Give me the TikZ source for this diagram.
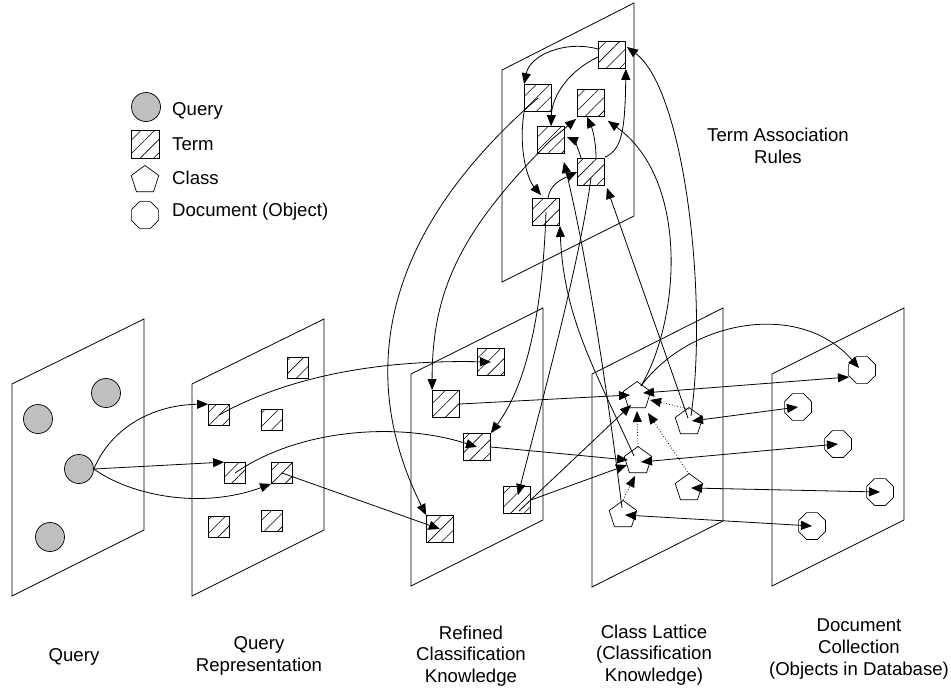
\documentclass[tikz,border=0pt]{standalone}
\usepackage{fontspec}
\setmainfont{Liberation Sans}
\usetikzlibrary{arrows.meta,shapes.geometric,patterns.meta,calc}
\begin{document}
\begin{tikzpicture}[x=1pt,y=-1pt,
  panel/.style={draw, line width=0.8pt},
  qn/.style={circle, draw, fill=black!25, minimum size=29pt, inner sep=0pt, line width=0.7pt},
  tn/.style={rectangle, draw, minimum size=27pt, inner sep=0pt, line width=0.8pt,
     pattern={Lines[angle=45,distance=9.5pt,line width=0.6pt]}},
  tns/.style={tn, minimum size=21pt},
  cn/.style={regular polygon, regular polygon sides=5, draw, fill=white, minimum size=29pt, inner sep=0pt, line width=0.7pt},
  dn/.style={regular polygon, regular polygon sides=8, draw, fill=white, minimum size=29pt, inner sep=0pt, line width=0.7pt},
  arr/.style={-{Triangle[length=11pt,width=9pt]}, line width=0.8pt},
  darr/.style={{Triangle[length=11pt,width=9pt]}-{Triangle[length=11pt,width=9pt]}, line width=0.8pt},
  dt/.style={arr, dotted},
  lab/.style={font=\fontsize{18.6pt}{21.7pt}\selectfont, align=center, inner sep=0pt},
  leg/.style={font=\fontsize{18.6pt}{21.7pt}\selectfont, anchor=base west, inner sep=0pt}
]
\useasboundingbox (0,0) rectangle (951,688);

% panels
\draw[panel] (12,384) -- (144,319) -- (144,530) -- (12,596) -- cycle;
\draw[panel] (192,384) -- (324,319) -- (324,530) -- (192,596) -- cycle;
\draw[panel] (411,374) -- (543,308) -- (543,520) -- (411,586) -- cycle;
\draw[panel] (592,374) -- (723,308) -- (723,521) -- (592,587) -- cycle;
\draw[panel] (772,374) -- (904,308) -- (904,520) -- (772,586) -- cycle;
\draw[panel] (502,70) -- (634,3) -- (634,216) -- (502,282) -- cycle;

% legend
\node[qn] (lq) at (146,107) {};
\node[tn, minimum size=28pt] (lt) at (145,144) {};
\node[cn] (lc) at (145,180) {};
\node[dn] (ld) at (145,215) {};
\node[leg] (lqt) at (172,115) {Query};
\node[leg] (ltt) at (172,150) {Term};
\node[leg] (lct) at (172,184) {Class};
\node[leg] (ldt) at (172,216) {Document (Object)};

% query
\node[qn] (c1) at (38,419) {};
\node[qn] (c2) at (106,393) {};
\node[qn] (c3) at (79,469) {};
\node[qn] (c4) at (50,537) {};

% query representation
\node[tns] (s1) at (298,368) {};
\node[tns] (s2) at (219,415) {};
\node[tns] (s3) at (272,420) {};
\node[tns] (s4) at (235,473) {};
\node[tns] (s5) at (282,473) {};
\node[tns] (s6) at (219,527) {};
\node[tns] (s7) at (272,521) {};

% refined
\node[tn] (r1) at (491,362) {};
\node[tn] (r2) at (446,404) {};
\node[tn] (r3) at (477,447) {};
\node[tn] (r4) at (517,500) {};
\node[tn] (r5) at (440,529) {};

% term association
\node[tn] (t1) at (612,55) {};
\node[tn] (t2) at (538,98) {};
\node[tn] (t3) at (591,103) {};
\node[tn] (t4) at (551,140) {};
\node[tn] (t5) at (591,172) {};
\node[tn] (t6) at (546,212) {};

% class lattice
\node[cn] (p1) at (637,396) {};
\node[cn] (p2) at (689,422) {};
\node[cn] (p3) at (638,461) {};
\node[cn] (p4) at (689,488) {};
\node[cn] (p5) at (623,515) {};

% documents
\node[dn] (o1) at (862,370) {};
\node[dn] (o2) at (798,407) {};
\node[dn] (o3) at (838,444) {};
\node[dn] (o4) at (880,492) {};
\node[dn] (o5) at (812,526) {};

% labels
\node[lab] (l1) at (74,657) {Query};
\node[lab] (l2) at (259,656) {Query\\Representation};
\node[lab] (l3) at (471,656) {Refined\\Classification\\Knowledge};
\node[lab] (l4) at (654,655) {Class Lattice\\(Classification\\Knowledge)};
\node[lab] (l5) at (859,649) {Document\\Collection\\(Objects in Database)};
\node[lab] (l6) at (778,146) {Term Association\\Rules};

% query -> query representation
\draw[arr] (c3.east) .. controls (110,430) and (150,405) .. (s2.north west);
\draw[arr] (c3.east) -- (s4.north west);
\draw[arr] (c3.east) .. controls (130,495) and (200,510) .. (s5.south west);

% query representation -> refined
\draw[arr] (s2.center) .. controls (300,370) and (400,360) .. (r1.center);
\draw[arr] (s4.center) .. controls (300,428) and (400,422) .. (r3.center);
\draw[arr] (s5.center) -- (r5.center);

% refined -> class
\draw[arr] (r2.east) -- ($(p1.center)+(-7,-1)$);
\draw[arr] (r3.east) -- ($(p3.center)+(-10,-1)$);
\draw[arr] (r4.east) -- ($(p3.center)+(-11,4)$);
\draw[arr] ($(r4.center)+(2,11)$) -- ($(p1.center)+(-6,9)$);

% class <-> documents
\draw[darr] ($(p1.center)+(6,-3)$) -- ($(o1.center)+(-13,7)$);
\draw[arr] ($(p1.center)+(4,-10)$) .. controls (690,320) and (800,300) .. ($(o1.center)+(-3,-2)$);
\draw[darr] ($(p2.center)+(3,-1)$) -- (o2.center);
\draw[darr] ($(p3.center)+(3,1)$) -- (o3.center);
\draw[darr] ($(p4.center)+(2,0)$) -- (o4.center);
\draw[darr] ($(p5.center)+(2,0)$) -- (o5.center);

% lattice (dotted)
\draw[dt] ($(p2.center)+(0,-13)$) -- ($(p1.center)+(13,4)$);
\draw[dt] ($(p4.center)+(0,-14)$) -- ($(p1.center)+(11,17)$);
\draw[dt] ($(p3.center)+(0,-14)$) -- ($(p1.center)+(0,15)$);
\draw[dt] ($(p5.center)+(0,-15)$) -- ($(p3.center)+(-3,15)$);

% inside term association
\draw[arr] ($(t1.west)+(0,-6)$) .. controls (565,40) and (530,55) .. (t2.north west);
\draw[arr] ($(t1.west)+(0,2)$) .. controls (570,70) and (552,95) .. (t4.north);
\draw[arr] ($(t5.north east)+(0,-1)$) .. controls (622,150) and (625,130) .. (t1.south east);
\draw[arr] ($(t5.north)+(5,0)$) .. controls (596,140) and (592,128) .. ($(t3.south)+(-4,0)$);
\draw[arr] ($(t5.north west)+(4,0)$) .. controls (578,148) and (574,140) .. ($(t4.east)+(2,-3)$);
\draw[arr] ($(t6.north)+(2,0)$) .. controls (550,185) and (560,180) .. (t5.west);
\draw[arr] (t2.south west) .. controls (518,150) and (528,180) .. ($(t6.north west)+(9,-3)$);
\draw[arr] (t4.center) -- ($(t3.south west)+(-1,2)$);

% term association -> refined / class
\draw[arr] (t2.center) .. controls (372,242) and (361,385) .. (r5.north west);
\draw[arr] (t4.center) .. controls (461,230) and (432,290) .. (r2.north west);
\draw[arr] (t6.center) .. controls (543,300) and (530,380) .. (r3.north east);
\draw[arr] ($(t5.center)+(0,6)$) .. controls (580,260) and (545,390) .. ($(r4.center)+(1,-5)$);
\draw[arr] ($(p3.center)+(-4,-5)$) .. controls (593,366) and (564,317) .. (t6.south east);
\draw[arr] ($(p5.center)+(-1,-7)$) .. controls (607,388) and (588,263) .. ($(t4.south east)+(-1,8)$);
\draw[arr] ($(p2.center)+(-1,-4)$) -- ($(t5.south east)+(2,2)$);
\draw[arr] ($(p2.center)+(2,-6)$) .. controls (708,300) and (685,90) .. ($(t1.east)+(1,-8)$);
\draw[arr] ($(p1.center)+(4,-10)$) .. controls (680,320) and (690,180) .. ($(t3.south east)+(3,4)$);
\end{tikzpicture}
\end{document}
